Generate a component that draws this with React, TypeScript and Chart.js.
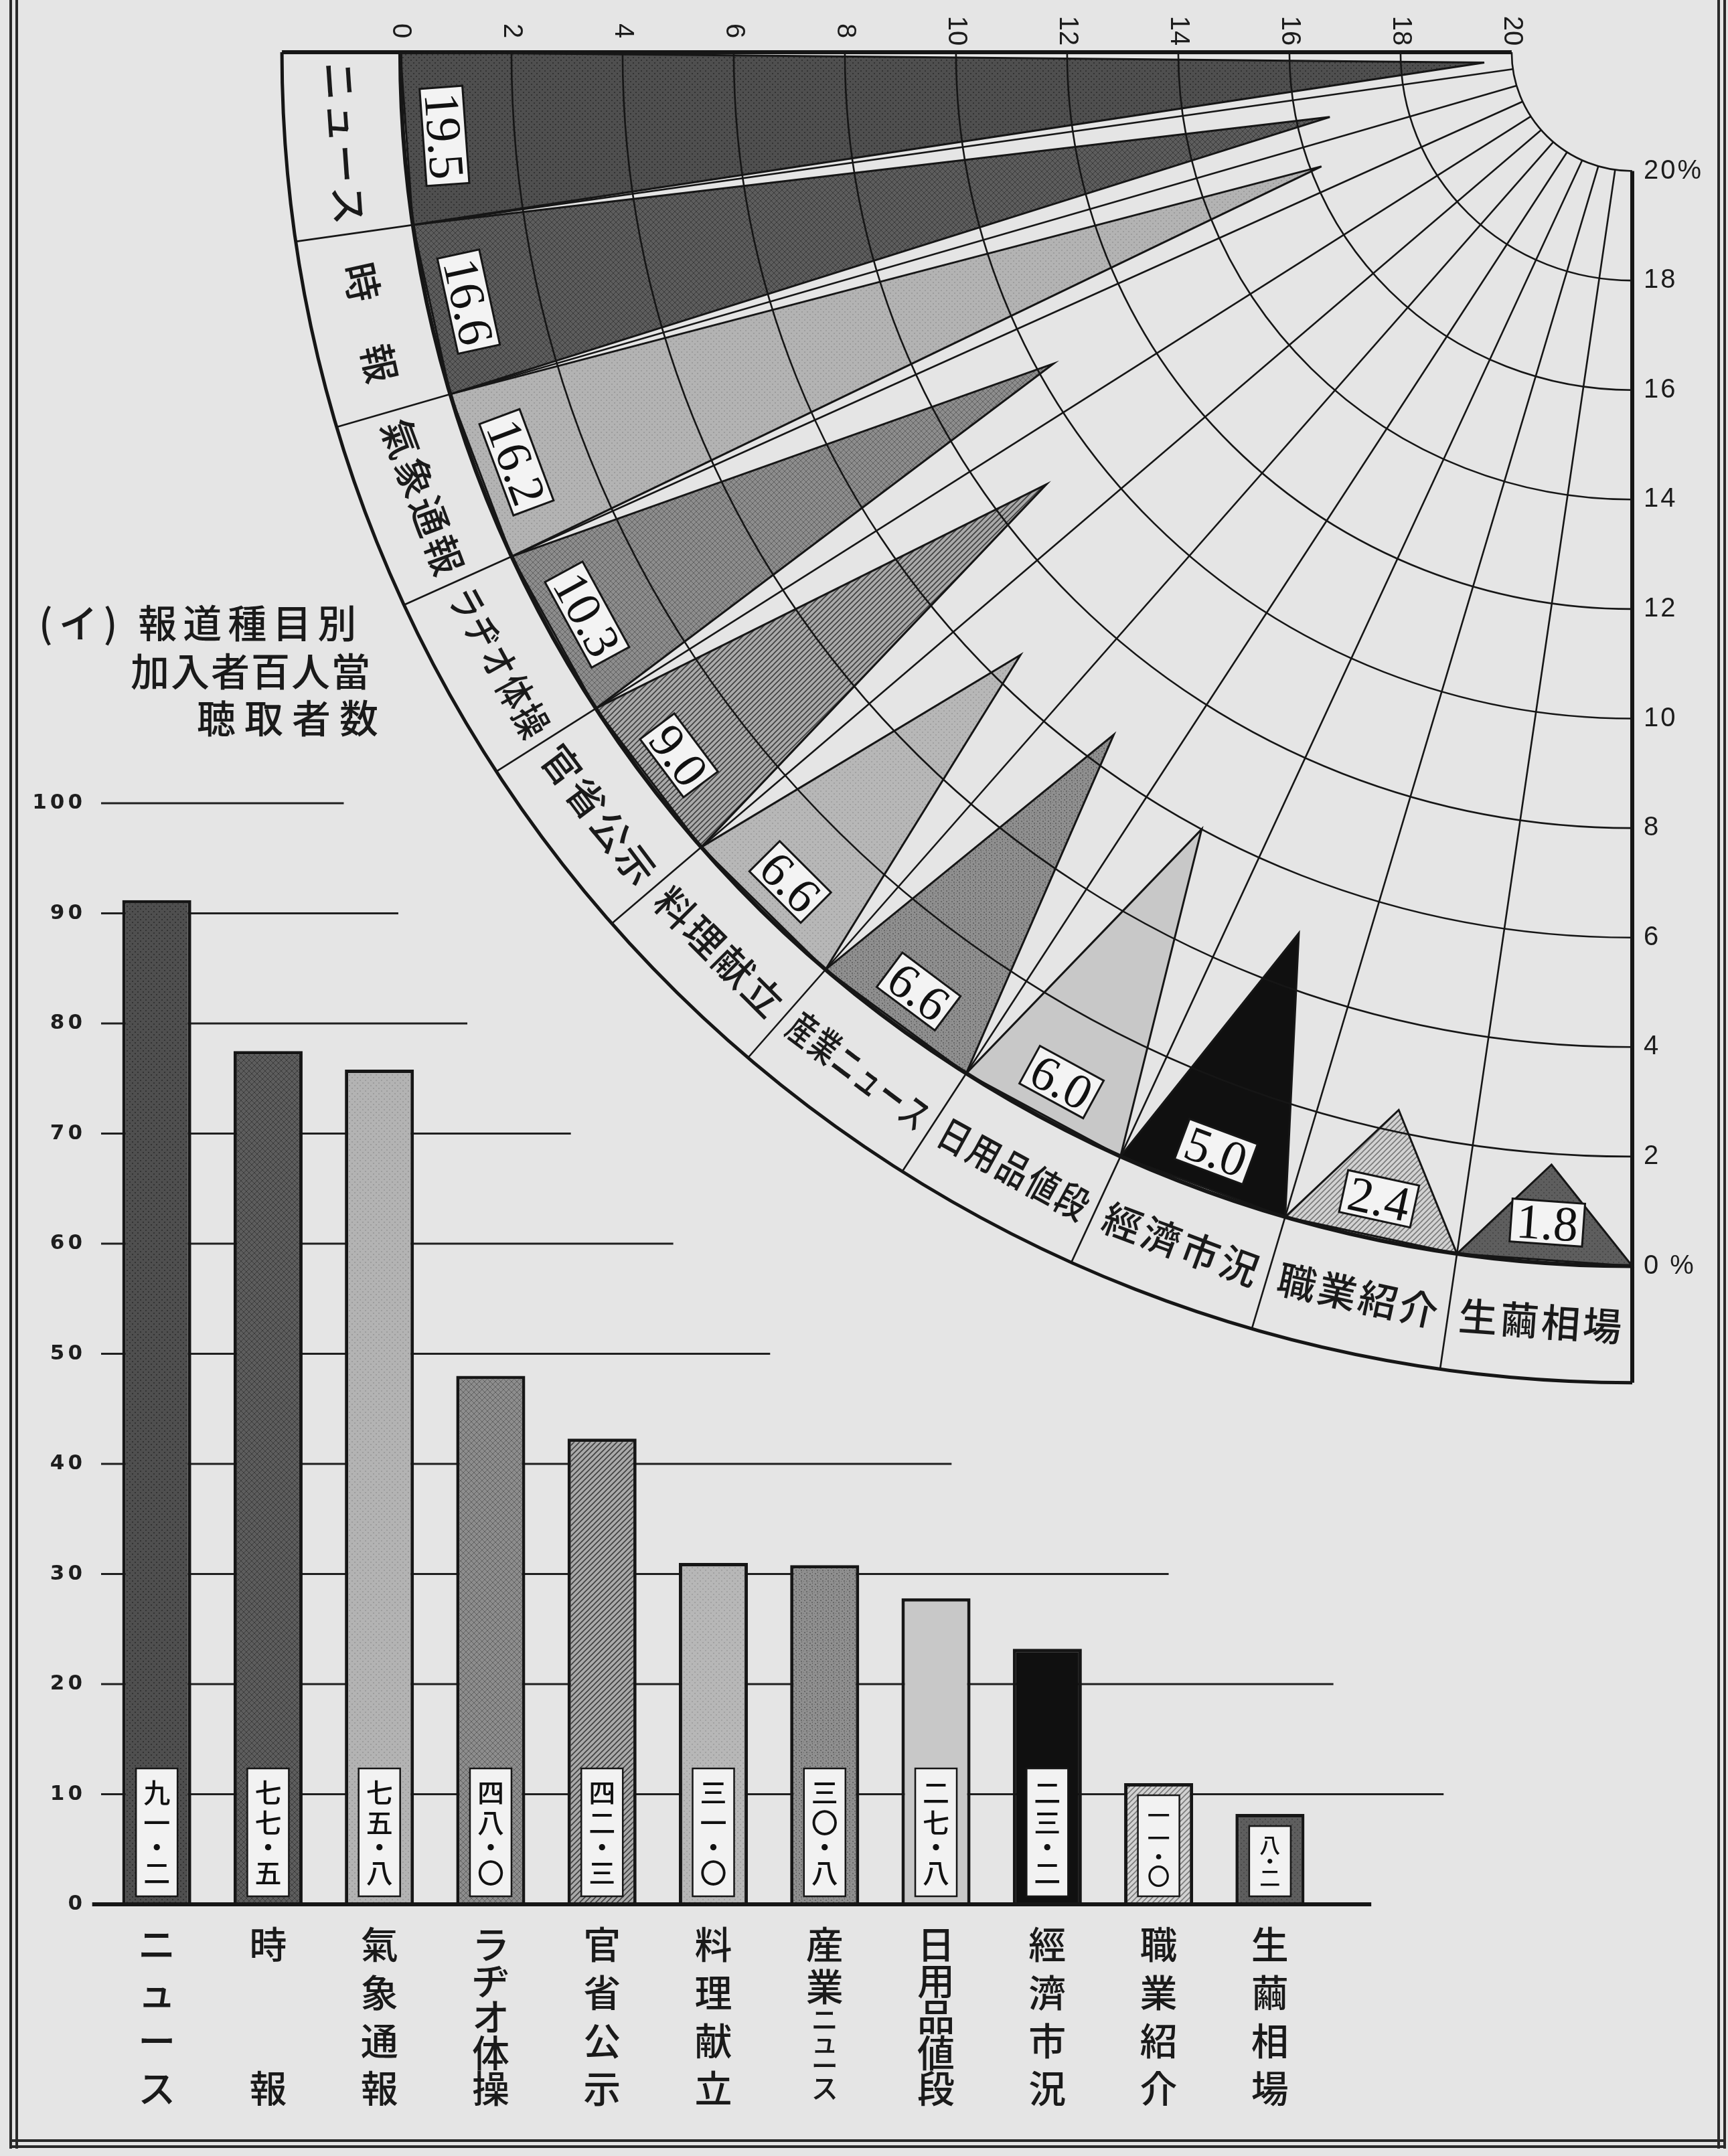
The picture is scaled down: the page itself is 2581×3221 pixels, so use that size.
import React, { useEffect, useRef } from 'react';
import { Chart, registerables } from 'chart.js';

Chart.register(...registerables);

// ---------------- data ----------------
const categories = ['ニュース', '時報', '氣象通報', 'ラヂオ体操', '官省公示', '料理献立', '産業ニュース', '日用品値段', '經濟市況', '職業紹介', '生繭相場'];
const fanCategoryLabels = ['ニュース', '時　報', '氣象通報', 'ラヂオ体操', '官省公示', '料理献立', '産業ニュース', '日用品値段', '經濟市況', '職業紹介', '生繭相場'];
// listeners per 100 subscribers (bar chart)
const listenersPer100 = [91.2, 77.5, 75.8, 48.0, 42.3, 31.0, 30.8, 27.8, 23.2, 11.0, 8.2];
const listenerKanji = ['九一・二', '七七・五', '七五・八', '四八・〇', '四二・三', '三一・〇', '三〇・八', '二七・八', '二三・二', '一一・〇', '八・二'];
// share in percent (fan chart)
const sharePercent = [19.5, 16.6, 16.2, 10.3, 9.0, 6.6, 6.6, 6.0, 5.0, 2.4, 1.8];

const barTicks = [0, 10, 20, 30, 40, 50, 60, 70, 80, 90, 100];
// how far (in category units) each horizontal rule of the bar chart runs to the right
const barRuleExtent = [10.91, 11.56, 10.57, 9.09, 7.14, 5.51, 4.64, 3.72, 2.79, 2.17, 1.68];
const fanTicks = [0, 2, 4, 6, 8, 10, 12, 14, 16, 18, 20];
const fanTopTickLabels = ['0', '2', '4', '6', '8', '10', '12', '14', '16', '18', '20'];
const fanRightTickLabels = ['0 %', '2', '4', '6', '8', '10', '12', '14', '16', '18', '20%'];
const titleLines = ['(イ) 報道種目別', '加入者百人當', '聴取者数'];

// ---------------- layout / style ----------------
const W = 2581;
const H = 3221;
const PAPER = '#e5e5e5';
const INK = '#161616';
const N = categories.length;
const R_ZERO = 22.17; // radius of the "0" ring, in percent units
const R_BAND = 24.3; // outer radius of the label band

const FAN_LEFT = 300;
const FAN_W = 2281;
const FAN_H = 2140;
const FAN_CX = 2438;
const FAN_CY = 78;
const FAN_PX_X = 83.0;
const FAN_PX_Y = 81.8;

const BAR_TOP = 1100;
const BAR_W = 2300;
const BAR_H = 2121;

type Fill = { base: string; kind: string; ink: string };
const fillStyles: Fill[] = [
  { base: '#4f4f4f', kind: 'dots', ink: '#333333' },
  { base: '#5d5d5d', kind: 'cross', ink: '#3c3c3c' },
  { base: '#b3b3b3', kind: 'dots', ink: '#9d9d9d' },
  { base: '#8d8d8d', kind: 'cross', ink: '#626262' },
  { base: '#a9a9a9', kind: 'diag', ink: '#404040' },
  { base: '#b7b7b7', kind: 'dots', ink: '#a2a2a2' },
  { base: '#8f8f8f', kind: 'speckle', ink: '#686868' },
  { base: '#c8c8c8', kind: 'plain', ink: '#c8c8c8' },
  { base: '#101010', kind: 'plain', ink: '#101010' },
  { base: '#d2d2d2', kind: 'diag', ink: '#7a7a7a' },
  { base: '#5e5e5e', kind: 'dots', ink: '#4a4a4a' },
];

function makePattern(f: Fill): CanvasPattern | string {
  const s = 8;
  const c = document.createElement('canvas');
  c.width = s;
  c.height = s;
  const g = c.getContext('2d');
  if (!g) return f.base;
  g.fillStyle = f.base;
  g.fillRect(0, 0, s, s);
  g.fillStyle = f.ink;
  g.strokeStyle = f.ink;
  g.lineWidth = 1.6;
  const diag = (dir: number) => {
    g.beginPath();
    if (dir > 0) {
      g.moveTo(0, s); g.lineTo(s, 0);
      g.moveTo(-2, 2); g.lineTo(2, -2);
      g.moveTo(s - 2, s + 2); g.lineTo(s + 2, s - 2);
    } else {
      g.moveTo(0, 0); g.lineTo(s, s);
      g.moveTo(-2, s - 2); g.lineTo(2, s + 2);
      g.moveTo(s - 2, -2); g.lineTo(s + 2, 2);
    }
    g.stroke();
  };
  if (f.kind === 'dots') {
    g.fillRect(1, 1, 2, 2);
    g.fillRect(5, 5, 2, 2);
  } else if (f.kind === 'cross') {
    g.lineWidth = 1;
    diag(1);
    diag(-1);
  } else if (f.kind === 'diag') {
    diag(1);
  } else if (f.kind === 'speckle') {
    g.fillRect(1, 2, 2, 2);
    g.fillRect(5, 0, 1, 2);
    g.fillRect(4, 5, 2, 2);
    g.fillRect(0, 6, 1, 1);
  }
  return g.createPattern(c, 'repeat') || f.base;
}

const deg = (d: number) => (d * Math.PI) / 180;

// ---------------- fan decorations ----------------
const fanPlugin = {
  id: 'fanDecor',
  afterDatasetsDraw(chart: any) {
    const ctx: CanvasRenderingContext2D = chart.ctx;
    const xs = chart.scales.x;
    const ys = chart.scales.y;
    const P = (r: number, phi: number): [number, number] => [
      xs.getPixelForValue(-r * Math.sin(deg(phi))),
      ys.getPixelForValue(-r * Math.cos(deg(phi))),
    ];
    const cx = xs.getPixelForValue(0);
    const cy = ys.getPixelForValue(0);
    const ring = (r: number) => {
      const rx = cx - xs.getPixelForValue(-r);
      const ry = ys.getPixelForValue(-r) - cy;
      ctx.beginPath();
      ctx.ellipse(cx, cy, rx, ry, 0, Math.PI / 2, Math.PI);
      ctx.stroke();
    };
    const seg = (a: [number, number], b: [number, number]) => {
      ctx.beginPath();
      ctx.moveTo(a[0], a[1]);
      ctx.lineTo(b[0], b[1]);
      ctx.stroke();
    };
    ctx.save();
    ctx.strokeStyle = INK;
    // rings
    fanTicks.forEach((v) => {
      ctx.lineWidth = v === 0 ? 6 : 2.6;
      ring(R_ZERO - v);
    });
    ctx.lineWidth = 5;
    ring(R_BAND);
    // spokes
    ctx.lineWidth = 2.6;
    for (let k = 1; k < N; k++) {
      const phi = 90 - (k * 90) / N;
      seg(P(R_ZERO - 20, phi), P(R_BAND, phi));
    }
    // edges
    ctx.lineWidth = 6;
    seg(P(R_ZERO - 20, 90), P(R_BAND, 90));
    seg(P(R_ZERO - 20, 0), P(R_BAND, 0));

    // top tick labels (rotated)
    ctx.fillStyle = '#1c1c1c';
    ctx.font = "40px 'Liberation Sans'";
    ctx.textAlign = 'center';
    ctx.textBaseline = 'middle';
    fanTicks.forEach((v, j) => {
      const x = xs.getPixelForValue(-(R_ZERO - v));
      ctx.save();
      ctx.translate(x, 46);
      ctx.rotate(Math.PI / 2);
      ctx.fillText(fanTopTickLabels[j], 0, 0);
      ctx.restore();
    });
    // right tick labels
    ctx.font = "40px 'Liberation Sans'";
    ctx.textAlign = 'left';
    (ctx as any).letterSpacing = '3px';
    fanTicks.forEach((v, j) => {
      const y = ys.getPixelForValue(-(R_ZERO - v));
      ctx.fillText(fanRightTickLabels[j], cx + 17, y);
    });
    (ctx as any).letterSpacing = '0px';

    // value boxes
    sharePercent.forEach((v, i) => {
      const phi = 90 - ((i + 0.5) * 90) / N;
      const [px, py] = P(R_ZERO - 0.74, phi);
      ctx.save();
      ctx.translate(px, py);
      ctx.rotate(deg(phi));
      ctx.font = "74px 'Liberation Serif'";
      const txt = v.toFixed(1);
      const w = ctx.measureText(txt).width + 16;
      const h = 64;
      ctx.fillStyle = '#f3f3f3';
      ctx.fillRect(-w / 2, -h / 2, w, h);
      ctx.lineWidth = 3;
      ctx.strokeStyle = INK;
      ctx.strokeRect(-w / 2, -h / 2, w, h);
      ctx.fillStyle = '#111';
      ctx.textAlign = 'center';
      ctx.textBaseline = 'alphabetic';
      ctx.fillText(txt, 0, 25);
      ctx.restore();
    });

    // category labels in the band
    fanCategoryLabels.forEach((lab, i) => {
      const phi = 90 - ((i + 0.5) * 90) / N;
      const [px, py] = P((R_ZERO + R_BAND) / 2, phi);
      ctx.save();
      ctx.translate(px, py);
      ctx.rotate(deg(phi));
      ctx.font = "500 58px 'Noto Sans CJK JP'";
      (ctx as any).letterSpacing = '4px';
      ctx.fillStyle = '#1a1a1a';
      ctx.textAlign = 'center';
      ctx.textBaseline = 'middle';
      ctx.fillText(lab, 2, 0, 250);
      ctx.restore();
    });
    ctx.restore();
  },
};

// ---------------- bar decorations ----------------
const isKana = (c: string) => /[\u30A0-\u30FF]/.test(c);

const barPlugin = {
  id: 'barDecor',
  beforeDatasetsDraw(chart: any) {
    const ctx: CanvasRenderingContext2D = chart.ctx;
    const xs = chart.scales.x;
    const ys = chart.scales.y;
    const left = xs.getPixelForValue(-0.5);
    ctx.save();
    barTicks.forEach((t, j) => {
      const y = ys.getPixelForValue(t);
      if (t > 0) {
        ctx.strokeStyle = '#202020';
        ctx.lineWidth = 3;
        ctx.beginPath();
        ctx.moveTo(left, y);
        ctx.lineTo(xs.getPixelForValue(barRuleExtent[j]), y);
        ctx.stroke();
      }
      ctx.fillStyle = '#1e1e1e';
      ctx.font = "bold 31px 'DejaVu Sans'";
      (ctx as any).letterSpacing = '5px';
      ctx.textAlign = 'right';
      ctx.textBaseline = 'middle';
      ctx.fillText(String(t), left - 23, y);
    });
    (ctx as any).letterSpacing = '0px';
    ctx.restore();
  },
  afterDatasetsDraw(chart: any) {
    const ctx: CanvasRenderingContext2D = chart.ctx;
    const xs = chart.scales.x;
    const ys = chart.scales.y;
    const y0 = ys.getPixelForValue(0);
    ctx.save();
    // baseline
    ctx.strokeStyle = INK;
    ctx.lineWidth = 6;
    ctx.beginPath();
    ctx.moveTo(xs.getPixelForValue(-0.58), y0);
    ctx.lineTo(xs.getPixelForValue(barRuleExtent[0]), y0);
    ctx.stroke();

    // value boxes inside bars
    const meta = chart.getDatasetMeta(0);
    meta.data.forEach((bar: any, i: number) => {
      const { x, y, base } = bar.getProps(['x', 'y', 'base'], true);
      const chars = Array.from(listenerKanji[i]);
      const adv = chars.map((c) => (c === '・' ? 30 : 45));
      const pad = 13;
      const natural = adv.reduce((a, b) => a + b, 0) + pad * 2;
      const barH = base - y;
      const h = Math.min(natural, barH - 30);
      const f = (h - 2 * pad) / (natural - 2 * pad);
      const bw = 62;
      const bottom = base - 12;
      const top = bottom - h;
      ctx.fillStyle = '#f2f2f2';
      ctx.fillRect(x - bw / 2, top, bw, h);
      ctx.strokeStyle = INK;
      ctx.lineWidth = 2.5;
      ctx.strokeRect(x - bw / 2, top, bw, h);
      const fs = 40 * Math.min(1, 0.35 + 0.65 * f);
      ctx.font = `500 ${fs}px 'Noto Sans CJK JP'`;
      ctx.fillStyle = '#111';
      ctx.textAlign = 'center';
      ctx.textBaseline = 'middle';
      let cyy = top + pad;
      chars.forEach((c, k) => {
        const a = adv[k] * f;
        ctx.fillText(c, x, cyy + a / 2);
        cyy += a;
      });
    });

    // vertical category labels
    categories.forEach((lab, i) => {
      const x = xs.getPixelForValue(i);
      const chars = Array.from(lab);
      const small = chars.length > 5;
      const wts = chars.map((c) => (small && isKana(c) ? 0.55 : 1));
      const first = y0 + 60;
      const last = y0 + 275;
      let D = 0;
      for (let k = 0; k < chars.length - 1; k++) D += (wts[k] + wts[k + 1]) / 2;
      const unit = D > 0 ? (last - first) / D : 0;
      let yy = first;
      ctx.fillStyle = '#1a1a1a';
      ctx.textAlign = 'center';
      ctx.textBaseline = 'middle';
      chars.forEach((c, k) => {
        const fs = wts[k] < 1 ? 40 : 56;
        ctx.font = `500 ${fs}px 'Noto Sans CJK JP'`;
        ctx.fillText(c, x, yy);
        if (k < chars.length - 1) yy += unit * (wts[k] + wts[k + 1]) / 2;
      });
    });
    ctx.restore();
  },
};

export default function App() {
  const fanRef = useRef<HTMLCanvasElement | null>(null);
  const barRef = useRef<HTMLCanvasElement | null>(null);

  useEffect(() => {
    document.body.style.margin = '0';
    document.body.style.background = PAPER;
    const fills = fillStyles.map(makePattern);

    const xMin = -(FAN_CX - FAN_LEFT) / FAN_PX_X;
    const xMax = xMin + FAN_W / FAN_PX_X;
    const yMax = FAN_CY / FAN_PX_Y;
    const yMin = yMax - FAN_H / FAN_PX_Y;

    const pt = (r: number, phi: number) => ({ x: -r * Math.sin(deg(phi)), y: -r * Math.cos(deg(phi)) });
    const fanSets = sharePercent.map((v, i) => {
      const p0 = 90 - (i * 90) / N;
      const p1 = 90 - ((i + 1) * 90) / N;
      const pc = (p0 + p1) / 2;
      return {
        label: categories[i],
        data: [pt(R_ZERO, p0), pt(R_ZERO - v, pc), pt(R_ZERO, p1), pt(R_ZERO, p0)],
        borderColor: INK,
        borderWidth: 3,
        backgroundColor: fills[i],
        fill: 'shape',
        pointRadius: 0,
        tension: 0,
        showLine: true,
      };
    });

    const fan = new Chart(fanRef.current as HTMLCanvasElement, {
      type: 'line',
      data: { datasets: fanSets as any },
      options: {
        responsive: false,
        animation: false,
        events: [],
        layout: { padding: 0 },
        plugins: { legend: { display: false }, tooltip: { enabled: false } },
        scales: {
          x: { type: 'linear', min: xMin, max: xMax, display: false },
          y: { type: 'linear', min: yMin, max: yMax, display: false },
        },
      },
      plugins: [fanPlugin as any],
    });

    const bar = new Chart(barRef.current as HTMLCanvasElement, {
      type: 'bar',
      data: {
        labels: categories,
        datasets: [
          {
            data: listenersPer100,
            backgroundColor: fills as any,
            borderColor: INK,
            borderWidth: 5,
            borderSkipped: 'bottom',
            barPercentage: 0.62,
            categoryPercentage: 1,
          },
        ],
      },
      options: {
        responsive: false,
        animation: false,
        events: [],
        layout: { padding: { left: 151, right: BAR_W - 1980, top: 100, bottom: BAR_H - (2845 - BAR_TOP) } },
        plugins: { legend: { display: false }, tooltip: { enabled: false } },
        scales: {
          x: { display: false, offset: true },
          y: { display: false, min: 0, max: 100 },
        },
      },
      plugins: [barPlugin as any],
    });

    return () => {
      fan.destroy();
      bar.destroy();
    };
  }, []);

  const line = (style: React.CSSProperties) => <div style={{ position: 'absolute', background: '#2a2a2a', ...style }} />;
  const titleStyle = (left: number, top: number, ls: number): React.CSSProperties => ({
    position: 'absolute',
    left,
    top,
    fontSize: 58,
    lineHeight: '58px',
    letterSpacing: ls,
    whiteSpace: 'nowrap',
    color: '#1a1a1a',
    fontFamily: "'Noto Sans CJK JP', sans-serif",
    fontWeight: 500,
  });

  return (
    <div style={{ position: 'absolute', left: 0, top: 0, width: W, height: H, background: PAPER, overflow: 'hidden' }}>
      {line({ left: 14, top: 0, width: 4, height: 3210 })}
      {line({ left: 23, top: 0, width: 4, height: 3210 })}
      {line({ left: 2565, top: 0, width: 4, height: 3210 })}
      {line({ left: 2574, top: 0, width: 4, height: 3210 })}
      {line({ left: 14, top: 3196, width: 2564, height: 4 })}
      {line({ left: 14, top: 3205, width: 2564, height: 4 })}
      <div style={titleStyle(58, 899, 9)}>{titleLines[0]}</div>
      <div style={titleStyle(195, 971, 2)}>{titleLines[1]}</div>
      <div style={titleStyle(294, 1041, 13)}>{titleLines[2]}</div>
      <canvas
        ref={fanRef}
        width={FAN_W}
        height={FAN_H}
        style={{ position: 'absolute', left: FAN_LEFT, top: 0, width: FAN_W, height: FAN_H }}
      />
      <canvas
        ref={barRef}
        width={BAR_W}
        height={BAR_H}
        style={{ position: 'absolute', left: 0, top: BAR_TOP, width: BAR_W, height: BAR_H }}
      />
    </div>
  );
}
